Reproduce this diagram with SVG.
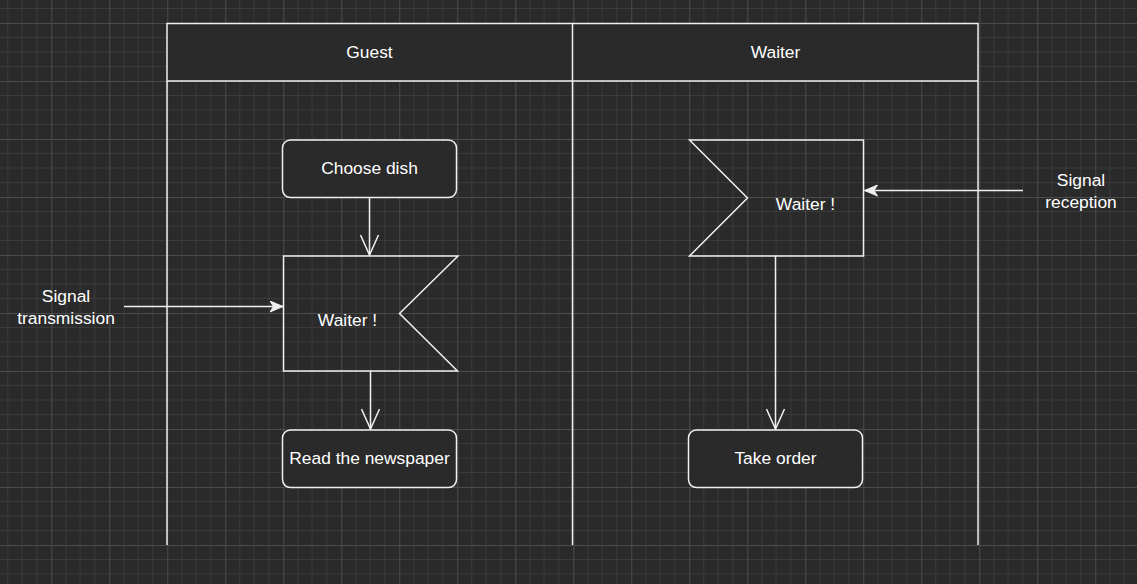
<svg xmlns="http://www.w3.org/2000/svg" width="1137" height="584" viewBox="0 0 1137 584">
<style>
.ln{fill:none;stroke:#f0f0f0;stroke-width:1.5}
.nd{fill:#2a2a2a;stroke:#f0f0f0;stroke-width:1.5}
.tx{font-family:"Liberation Sans",Arial,sans-serif;font-size:17.4px;fill:#ffffff;text-anchor:middle}
.minor{stroke:#3a3a3a;stroke-width:1;fill:none}
.major{stroke:#4c4c4c;stroke-width:1;fill:none}
</style>
<defs>
<pattern id="grid" patternUnits="userSpaceOnUse" x="51.3" y="23" width="58" height="58">
<path class="minor" d="M14.5 0V58M29 0V58M43.5 0V58M0 14.5H58M0 29H58M0 43.5H58"/>
<path class="major" d="M0.5 0V58M0 0.5H58"/>
</pattern>
<marker id="open" markerUnits="userSpaceOnUse" viewBox="0 0 22 20" refX="21" refY="10" markerWidth="22" markerHeight="20" orient="auto">
<path d="M1 1L21 10L1 19" fill="none" stroke="#f0f0f0" stroke-width="1.5"/>
</marker>
<marker id="classic" markerUnits="userSpaceOnUse" viewBox="0 0 14 12" refX="13" refY="6" markerWidth="14" markerHeight="12" orient="auto">
<path d="M0 0.5L13 6L0 11.5L3.5 6Z" fill="#f0f0f0" stroke="#f0f0f0" stroke-width="1"/>
</marker>
</defs>
<rect width="1137" height="584" fill="#2a2a2a"/>
<rect width="1137" height="584" fill="url(#grid)"/>

<g id="pool">
<rect x="167" y="23.5" width="811" height="57.5" fill="#2a2a2a" stroke="none"/>
<path class="ln" d="M167 545V23.5H978V545M167 81H978M572.5 23.5V545"/>
<text class="tx" x="369.5" y="58">Guest</text>
<text class="tx" x="775.5" y="58">Waiter</text>
</g>

<g id="choose-dish">
<rect class="nd" x="282.5" y="140" width="174" height="57.5" rx="8"/>
<text class="tx" x="369.5" y="174">Choose dish</text>
</g>

<g id="send-signal">
<path class="ln" d="M283.5 256H458L399.5 313.5L457.5 371H283.5Z"/>
<text class="tx" x="347.5" y="326">Waiter !</text>
</g>

<g id="read-newspaper">
<rect class="nd" x="282.5" y="430" width="174" height="57.5" rx="8"/>
<text class="tx" x="369.5" y="464">Read the newspaper</text>
</g>

<g id="receive-signal">
<path class="ln" d="M689.5 140H863.5V256H689.5L747.5 198Z"/>
<text class="tx" x="805.5" y="210">Waiter !</text>
</g>

<g id="take-order">
<rect class="nd" x="688.5" y="430" width="174" height="57.5" rx="8"/>
<text class="tx" x="775.5" y="464">Take order</text>
</g>

<g id="label-transmission">
<text class="tx" x="66" y="302">Signal</text>
<text class="tx" x="66" y="324">transmission</text>
</g>

<g id="label-reception">
<text class="tx" x="1081" y="186">Signal</text>
<text class="tx" x="1081" y="208">reception</text>
</g>

<g id="connectors">
<path class="ln" d="M369.5 198V255" marker-end="url(#open)"/>
<path class="ln" d="M370.5 371V429" marker-end="url(#open)"/>
<path class="ln" d="M775.5 256V429" marker-end="url(#open)"/>
<path class="ln" d="M124 306.5H283" marker-end="url(#classic)"/>
<path class="ln" d="M1023 190.5H864.5" marker-end="url(#classic)"/>
</g>
</svg>
